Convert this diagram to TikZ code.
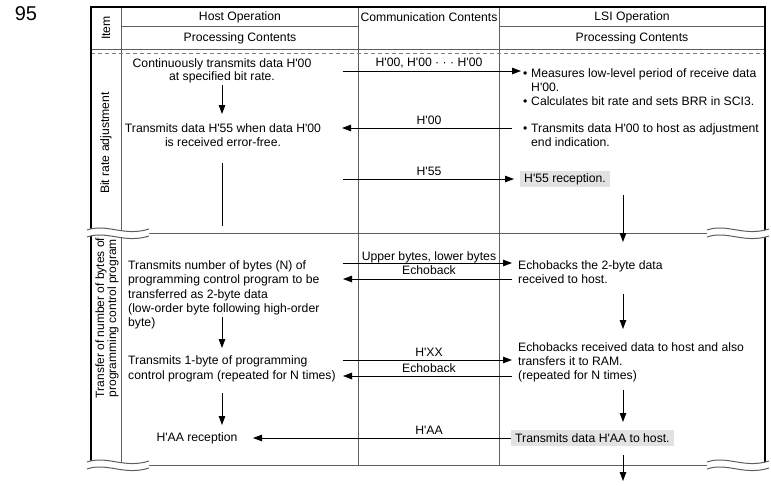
\documentclass[tikz,border=0pt]{standalone}
\usepackage{fontspec}
\setmainfont{Liberation Sans}
\usetikzlibrary{arrows.meta, positioning}
\definecolor{rulegray}{HTML}{5E5E5E}
\definecolor{boxgray}{HTML}{E2E2E2}
\newcommand{\hx}[1]{H\textquotesingle#1}
\newcommand{\bul}{\makebox[8pt][l]{\textbullet}}
\newcommand{\bulsp}{\hspace*{8pt}}

\begin{document}
\begin{tikzpicture}[x=1pt, y=-1pt,
  every node/.style={inner sep=0pt, font=\fontsize{12.2}{14}\selectfont},
  frame/.style={line width=1.4pt, black, line join=miter},
  rule/.style={line width=0.8pt, rulegray},
  arr/.style={-{Triangle[length=9pt, width=6.5pt]}, line width=0.8pt, black},
  plain/.style={line width=0.8pt, black},
  hl/.style={fill=boxgray, inner xsep=4pt, minimum height=16pt},
  rot/.style={rotate=90, align=center},
  lsi/.style={anchor=north west, align=left}
]
\useasboundingbox (0,0) rectangle (771,485);

% table frame and rules
\draw[rule] (121,7) -- (121,465);
\draw[rule] (358,7) -- (358,465);
\draw[rule] (499,7) -- (499,465);
\draw[rule] (121,26) -- (358,26);
\draw[rule] (499,26) -- (765,26);
\draw[rule] (91,49) -- (765,49);
\draw[rule, gray, dash pattern=on 4pt off 3pt] (91,53) -- (765,53);
\draw[rule, line width=1pt] (148,233) -- (709,233);
\draw[rule, line width=1pt] (148,465) -- (709,465);
\draw[frame] (91,465) -- (91,7) -- (765,7) -- (765,465);

% breaks
\foreach \by in {233,465}
  \foreach \bx in {87,707} {
    \fill[white] (\bx,\by-3) .. controls ({\bx+20},\by-10) and ({\bx+37},\by+4) .. ({\bx+62},\by-4)
      -- ({\bx+62},\by+3) .. controls ({\bx+37},\by+11) and ({\bx+20},\by-3) .. (\bx,\by+4) -- cycle;
    \draw[rule, line width=1pt] (\bx,\by-3) .. controls ({\bx+20},\by-10) and ({\bx+37},\by+4) .. ({\bx+62},\by-4);
    \draw[rule, line width=1pt] (\bx,\by+4) .. controls ({\bx+20},\by-3) and ({\bx+37},\by+11) .. ({\bx+62},\by+3);
  }

% headings
\node[font=\fontsize{20}{22}\selectfont] (pnum) at (26,14) {95};
\node[rot] (hitem) at (106,28) {Item};
\node (hhost) at (240,17) {Host Operation};
\node (hproc) at (240,38) {Processing Contents};
\node (hcomm) at (429,17) {Communication Contents};
\node (hlsi) at (632,17) {LSI Operation};
\node (lproc) at (632,38) {Processing Contents};

% items
\node[rot] (ibit) at (106,143) {Bit rate adjustment};
\node[rot, font=\fontsize{12}{12}\selectfont] (inum) at (107,318)
  {Transfer of number of bytes of\\programming control program};

% bit rate adjustment
\node[anchor=north, align=center, font=\fontsize{12.2}{12.5}\selectfont] (hcont) at (222,58.5)
  {Continuously transmits data \hx{00}\\at specified bit rate.};
\node[anchor=north, align=center] (hreply) at (223,123.5)
  {Transmits data \hx{55} when data \hx{00}\\is received error-free.};
\node[lsi] (lmeas) at (523,68.5)
  {\bul Measures low-level period of receive data\\\bulsp\hx{00}.\\\bul Calculates bit rate and sets BRR in SCI3.};
\node[lsi] (lend) at (523,123.5)
  {\bul Transmits data \hx{00} to host as adjustment\\\bulsp end indication.};
\node[hl, anchor=west] (lrec) at (520,179) {\hx{55} reception.};

\node[anchor=base] (c1) at (429,66.5) {\hx{00}, \hx{00} \textperiodcentered\ \textperiodcentered\ \textperiodcentered\ \hx{00}};
\node[anchor=base] (c2) at (429,124.4) {\hx{00}};
\node[anchor=base] (c3) at (429,175.4) {\hx{55}};

\coordinate (a1s) at (343,71);  \coordinate (a1e) at (521,71);
\coordinate (a2s) at (512,128); \coordinate (a2e) at (342,128);
\coordinate (a3s) at (343,179);
\coordinate (d1s) at (222,85);  \coordinate (d1e) at (222,114);
\coordinate (v1s) at (222,163); \coordinate (v1e) at (222,226);
\coordinate (d2s) at (623,195); \coordinate (d2e) at (623,242);

\draw[arr] (a1s) -- (a1e);
\draw[arr] (a2s) -- (a2e);
\draw[arr, shorten >=6pt] (a3s) -- (lrec.west);
\draw[arr] (d1s) -- (d1e);
\draw[plain] (v1s) -- (v1e);
\draw[arr] (d2s) -- (d2e);

% transfer of number of bytes
\node[lsi, font=\fontsize{12.2}{14.3}\selectfont] (hnum) at (128,260.5)
  {Transmits number of bytes (N) of\\programming control program to be\\transferred as 2-byte data\\(low-order byte following high-order\\byte)};
\node[lsi, font=\fontsize{12.2}{14.8}\selectfont] (hbyte) at (128,355.5)
  {Transmits 1-byte of programming\\control program (repeated for N times)};
\node (hrecv) at (197,438) {\hx{AA} reception};
\node[lsi] (lecho) at (518,260.5) {Echobacks the 2-byte data\\received to host.};
\node[lsi] (lram) at (518,342.5)
  {Echobacks received data to host and also\\transfers it to RAM.\\(repeated for N times)};
\node[hl, anchor=west] (lsend) at (511,438) {Transmits data \hx{AA} to host.};

\node[anchor=base] (c4) at (429,260.4) {Upper bytes, lower bytes};
\node[anchor=base] (c5) at (429,274.4) {Echoback};
\node[anchor=base] (c6) at (429,356.4) {\hx{XX}};
\node[anchor=base] (c7) at (429,372.4) {Echoback};
\node[anchor=base] (c8) at (429,434.4) {\hx{AA}};

\coordinate (a4s) at (343,263); \coordinate (a4e) at (512,263);
\coordinate (a5s) at (512,279); \coordinate (a5e) at (343,279);
\coordinate (a6s) at (343,360); \coordinate (a6e) at (512,360);
\coordinate (a7s) at (512,376); \coordinate (a7e) at (343,376);
\coordinate (a8e) at (253,438);
\coordinate (d3s) at (222,317); \coordinate (d3e) at (222,348);
\coordinate (d4s) at (623,294); \coordinate (d4e) at (623,329);
\coordinate (d5s) at (222,393); \coordinate (d5e) at (222,425);
\coordinate (d6s) at (623,390); \coordinate (d6e) at (623,422);
\coordinate (d7s) at (623,455); \coordinate (d7e) at (623,481);

\draw[arr] (a4s) -- (a4e);
\draw[arr] (a5s) -- (a5e);
\draw[arr] (a6s) -- (a6e);
\draw[arr] (a7s) -- (a7e);
\draw[arr] (lsend.west) -- (a8e);
\draw[arr] (d3s) -- (d3e);
\draw[arr] (d4s) -- (d4e);
\draw[arr] (d5s) -- (d5e);
\draw[arr] (d6s) -- (d6e);
\draw[arr] (d7s) -- (d7e);
\end{tikzpicture}
\end{document}
